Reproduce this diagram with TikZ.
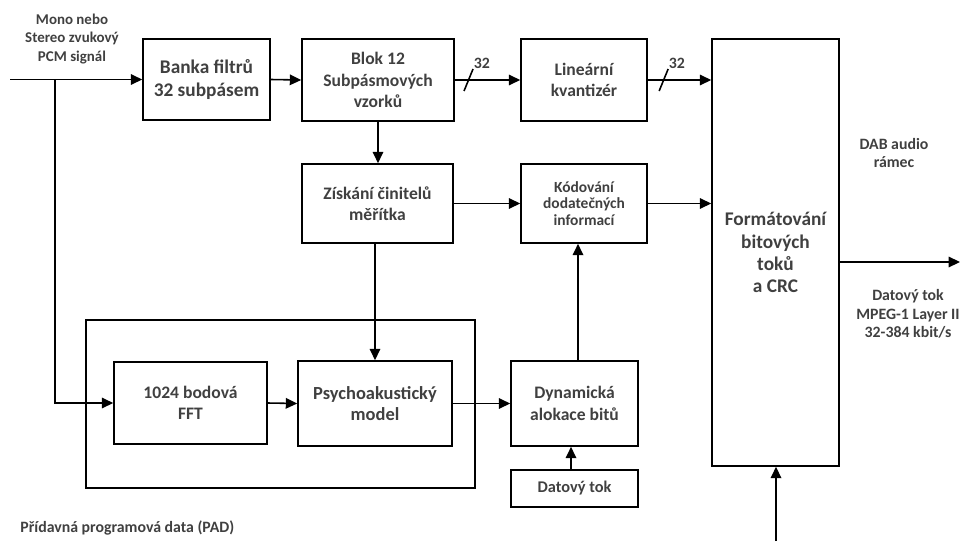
\documentclass[tikz,border=0pt]{standalone}
\usepackage{fontspec}
\setmainfont{Carlito}
\usetikzlibrary{arrows.meta}
\definecolor{txtgray}{HTML}{404040}
\tikzset{
  box/.style={draw, line width=0.9pt, align=center, inner sep=0pt,
    text=txtgray, font=\bfseries\fontsize{10}{12.2}\selectfont},
  bigbox/.style={box, font=\bfseries\fontsize{11}{12.6}\selectfont},
  lbl/.style={align=center, inner sep=0pt, text=txtgray,
    font=\bfseries\fontsize{9}{10.5}\selectfont},
  conn/.style={line width=0.9pt, -{Triangle[length=6.5pt,width=6pt]}},
}
\begin{document}
\begin{tikzpicture}[x=0.02cm,y=-0.02cm]
  \useasboundingbox (0,0) rectangle (962,541);
  % upper row
  \node[bigbox, minimum width=2.54cm, minimum height=1.62cm] (banka) at (206.5,79.5) {Banka filtrů\\32 subpásem};
  \node[box, minimum width=3.04cm, minimum height=1.64cm] (blok) at (378,80) {Blok 12\\Subpásmových\\vzorků};
  \node[box, minimum width=2.52cm, minimum height=1.64cm] (lin) at (584,80) {Lineární\\kvantizér};
  \node[bigbox, minimum width=2.54cm, minimum height=8.54cm] (format) at (775.5,252.5) {Formátování\\bitových\\toků\\a CRC};
  % middle row
  \node[box, minimum width=3.02cm, minimum height=1.58cm] (zisk) at (377.5,203.5) {Získání činitelů\\měřítka};
  \node[box, minimum width=2.52cm, minimum height=1.58cm, font=\bfseries\fontsize{8.8}{9.6}\selectfont] (kod) at (584,203.5) {Kódování\\dodatečných\\informací};
  % lower row
  \draw[line width=0.9pt] (86,320) rectangle (475,488);
  \node[box, minimum width=3.06cm, minimum height=1.64cm] (fft) at (190.5,403) {1024 bodová\\FFT};
  \node[box, minimum width=3.08cm, minimum height=1.70cm, font=\bfseries\fontsize{10.5}{12.2}\selectfont] (psy) at (375,403.5) {Psychoakustický\\model};
  \node[box, minimum width=2.54cm, minimum height=1.70cm] (dyn) at (574.5,403.5) {Dynamická\\alokace bitů};
  \node[box, minimum width=2.54cm, minimum height=0.74cm, font=\bfseries\fontsize{9.3}{11}\selectfont] (tok) at (574.5,488.5) {Datový tok};
  % texts
  \node[lbl, font=\bfseries\fontsize{8.5}{10.8}\selectfont] (vstup) at (72,39) {Mono nebo\\Stereo zvukový\\PCM signál};
  \node[lbl] (dab) at (894,153) {DAB audio\\rámec};
  \node[lbl] (vystup) at (908,314) {Datový tok\\MPEG-1 Layer II\\32-384 kbit/s};
  \node[lbl, anchor=west] (pad) at (20,528) {Přídavná programová data (PAD)};
  \coordinate (in) at (10,79.5);
  \coordinate (odb) at (55,79.5);
  \coordinate (out) at (960,262);
  \coordinate (padin) at (776,541);
  % connectors
  \draw[conn] (in) -- (banka.west);
  \draw[conn] (odb) |- (fft.west);
  \draw[conn] (banka.east) -- (blok.west);
  \draw[conn] (blok.east) -- node[pos=0.21] (s1) {} (lin.west);
  \draw[line width=0.9pt] (s1.center) ++(-4.5,11) -- ++(9,-22) node[lbl, anchor=south west] (n1) {32};
  \draw[conn] (lin.east) -- node[pos=0.25] (s2) {} (lin.east -| format.west);
  \draw[line width=0.9pt] (s2.center) ++(-4.5,11) -- ++(9,-22) node[lbl, anchor=south west] (n2) {32};
  \draw[conn] (blok.south) -- (blok.south |- zisk.north);
  \draw[conn] (zisk.east) -- (kod.west);
  \draw[conn] (kod.east) -- (kod.east -| format.west);
  \draw[conn] (zisk.south -| psy.north) -- (psy.north);
  \draw[conn] (fft.east) -- (psy.west);
  \draw[conn] (psy.east) -- (dyn.west);
  \draw[conn] (dyn.north -| 578,0) -- (kod.south -| 578,0);
  \draw[conn] (tok.north -| 571,0) -- (dyn.south -| 571,0);
  \draw[conn] (out -| format.east) -- (out);
  \draw[conn] (padin) -- (padin |- format.south);
\end{tikzpicture}
\end{document}
